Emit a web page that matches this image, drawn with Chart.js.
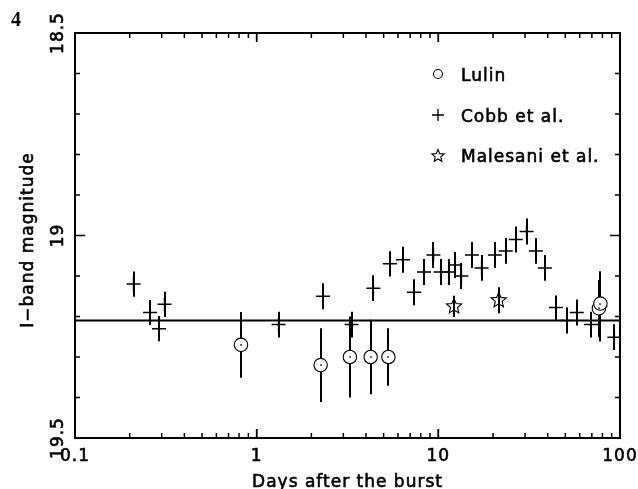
<!DOCTYPE html>
<html>
<head>
<meta charset="utf-8">
<script src="https://cdn.jsdelivr.net/npm/chart.js@4"></script>
<style>
  html, body { margin: 0; padding: 0; background: #fff; }
  #wrap { width: 638px; height: 489px; }
</style>
</head>
<body>
<div id="wrap"><canvas id="lc"></canvas></div>
<script>
// Lulin points (days, I mag, error)
const lulinDays = [0.82, 2.25, 3.26, 4.24, 5.31, 76.5, 78.0];
const lulinMag  = [19.27, 19.32, 19.30, 19.30, 19.30, 19.18, 19.168];
const lulinErr  = [0.081, 0.091, 0.10, 0.092, 0.071, 0.07, 0.06];

// Cobb et al.
const cobbDays = [0.21, 0.259, 0.29, 0.311, 1.32, 2.32, 3.33, 4.39, 5.41, 6.39,
                  7.35, 8.34, 9.4, 10.3, 11.4, 12.4, 13.4, 15.3, 17.3, 20.5,
                  23.5, 26.7, 30.6, 34.4, 38.6, 44.4, 50.9, 57.8, 69.3, 78.0, 93.1];
const cobbMag  = [19.12, 19.19, 19.23, 19.17, 19.22, 19.15, 19.22, 19.13, 19.07, 19.06,
                  19.14, 19.09, 19.048, 19.09, 19.09, 19.073, 19.10, 19.048, 19.08, 19.048,
                  19.038, 19.01, 18.99, 19.038, 19.08, 19.178, 19.21, 19.19, 19.22, 19.175, 19.251];
const cobbErr  = [0.031, 0.031, 0.031, 0.031, 0.032, 0.032, 0.032, 0.032, 0.031, 0.032,
                  0.032, 0.032, 0.032, 0.032, 0.032, 0.032, 0.032, 0.032, 0.032, 0.032,
                  0.032, 0.032, 0.032, 0.032, 0.032, 0.03, 0.032, 0.032, 0.032, 0.087, 0.032];

// Malesani et al.
const malDays = [12.2, 21.5];
const malMag  = [19.175, 19.16];
const malErr  = [0.026, 0.032];

// constant level
const fitMag = 19.21;

const xTickValues = [0.1, 1, 10, 100];
const xTickLabels = ['0.1', '1', '10', '100'];
const yTickValues = [18.5, 19, 19.5];
const yTickLabels = ['18.5', '19', '19.5'];

const FONT = '17px "DejaVu Sans"';

function starPath(ctx, cx, cy, r) {
    ctx.beginPath();
    for (let i = 0; i < 10; i++) {
        const rr = i % 2 ? r * 0.45 : r;
        const a = -Math.PI / 2 + i * Math.PI / 5;
        ctx.lineTo(cx + rr * Math.cos(a), cy + rr * Math.sin(a));
    }
    ctx.closePath();
}

// thicker text like the plot package's stroke font
function label(ctx, s, x, y) {
    ctx.fillText(s, x, y);
    ctx.strokeText(s, x, y);
}

const toPts = (xs, ys) => xs.map((x, i) => ({ x: x, y: ys[i] }));

const decorations = {
    id: 'decorations',
    beforeDatasetsDraw(chart) {
        const ctx = chart.ctx, xs = chart.scales.x, ys = chart.scales.y;
        ctx.save();
        ctx.strokeStyle = '#000';
        ctx.lineWidth = 2;
        const bars = [[lulinDays, lulinMag, lulinErr], [cobbDays, cobbMag, cobbErr], [malDays, malMag, malErr]];
        bars.forEach(([d, m, e]) => {
            d.forEach((day, i) => {
                const px = Math.round(xs.getPixelForValue(day));
                ctx.beginPath();
                ctx.moveTo(px, ys.getPixelForValue(m[i] - e[i]));
                ctx.lineTo(px, ys.getPixelForValue(m[i] + e[i]));
                ctx.stroke();
            });
        });
        ctx.restore();
    },
    afterDatasetsDraw(chart) {
        const ctx = chart.ctx;
        ctx.save();
        ctx.fillStyle = '#000';
        chart.getDatasetMeta(1).data.forEach(p => {
            ctx.fillRect(Math.round(p.x) - 0.75, Math.round(p.y) - 0.75, 1.5, 1.5);
        });
        ctx.strokeStyle = '#000';
        ctx.lineWidth = 1.1;
        chart.getDatasetMeta(3).data.forEach(p => {
            starPath(ctx, p.x, p.y, 8);
            ctx.stroke();
        });
        ctx.restore();
    },
    afterDraw(chart) {
        const ctx = chart.ctx, a = chart.chartArea, xs = chart.scales.x, ys = chart.scales.y;
        ctx.save();
        ctx.strokeStyle = '#000';
        ctx.fillStyle = '#000';
        ctx.lineWidth = 2;
        ctx.strokeRect(a.left, a.top, a.right - a.left, a.bottom - a.top);

        // x ticks (inward, bottom and top)
        ctx.lineWidth = 1.5;
        for (let dec = 0.1; dec < 100; dec *= 10) {
            for (let k = 1; k <= 10; k++) {
                const px = xs.getPixelForValue(k * dec);
                const len = (k === 1 || k === 10) ? 9 : 5;
                ctx.beginPath();
                ctx.moveTo(px, a.bottom); ctx.lineTo(px, a.bottom - len);
                ctx.moveTo(px, a.top); ctx.lineTo(px, a.top + len);
                ctx.stroke();
            }
        }
        // y ticks every 0.1 mag
        for (let i = 0; i <= 10; i++) {
            const v = 18.5 + i * 0.1;
            const py = ys.getPixelForValue(v);
            const len = (i % 5 === 0) ? 10 : 5;
            ctx.beginPath();
            ctx.moveTo(a.left, py); ctx.lineTo(a.left + len, py);
            ctx.moveTo(a.right, py); ctx.lineTo(a.right - len, py);
            ctx.stroke();
        }

        ctx.font = FONT;
        ctx.letterSpacing = '1px';
        ctx.lineWidth = 0.6;
        ctx.textAlign = 'center';
        ctx.textBaseline = 'alphabetic';
        xTickValues.forEach((v, i) => {
            label(ctx, xTickLabels[i], xs.getPixelForValue(v), a.bottom + 23);
        });
        yTickValues.forEach((v, i) => {
            ctx.save();
            ctx.translate(a.left - 12, ys.getPixelForValue(v));
            ctx.rotate(-Math.PI / 2);
            label(ctx, yTickLabels[i], 0, 0);
            ctx.restore();
        });
        label(ctx, 'Days after the burst', (a.left + a.right) / 2, a.bottom + 49);
        ctx.save();
        ctx.translate(33, 240);
        ctx.rotate(-Math.PI / 2);
        label(ctx, 'I\u2212band magnitude', 0, 0);
        ctx.restore();

        // legend
        ctx.textAlign = 'left';
        const lx = 438, tx = 461;
        ctx.lineWidth = 1.1;
        ctx.beginPath();
        ctx.arc(lx, 74, 4.5, 0, Math.PI * 2);
        ctx.stroke();
        ctx.lineWidth = 1.3;
        ctx.beginPath();
        ctx.moveTo(lx - 6, 115); ctx.lineTo(lx + 6, 115);
        ctx.moveTo(lx, 109); ctx.lineTo(lx, 121);
        ctx.stroke();
        ctx.lineWidth = 1.1;
        starPath(ctx, lx, 156, 6.5);
        ctx.stroke();
        ctx.lineWidth = 0.6;
        label(ctx, 'Lulin', tx, 81);
        label(ctx, 'Cobb et al.', tx, 122);
        label(ctx, 'Malesani et al.', tx, 162);

        // panel number
        ctx.letterSpacing = '0px';
        ctx.font = 'bold 20px "Liberation Serif"';
        ctx.fillText('4', 11, 26);
        ctx.restore();
    }
};

new Chart(document.getElementById('lc'), {
    type: 'scatter',
    data: {
        datasets: [
            {
                label: 'level',
                data: [{ x: 0.1, y: fitMag }, { x: 100, y: fitMag }],
                showLine: true,
                borderColor: '#000',
                borderWidth: 2,
                pointRadius: 0
            },
            {
                label: 'Lulin',
                data: toPts(lulinDays, lulinMag),
                pointStyle: 'circle',
                pointRadius: 6.7,
                borderColor: '#000',
                backgroundColor: '#fff',
                borderWidth: 1.1
            },
            {
                label: 'Cobb et al.',
                data: toPts(cobbDays, cobbMag),
                pointStyle: 'cross',
                pointRadius: 7,
                borderColor: '#000',
                borderWidth: 1.5
            },
            {
                label: 'Malesani et al.',
                data: toPts(malDays, malMag),
                pointRadius: 0
            }
        ]
    },
    options: {
        responsive: true,
        maintainAspectRatio: false,
        animation: false,
        layout: { padding: { left: 75, top: 33, right: 18, bottom: 51 } },
        plugins: { legend: { display: false }, tooltip: { enabled: false } },
        scales: {
            x: { type: 'logarithmic', min: 0.1, max: 100, display: false },
            y: { type: 'linear', min: 18.5, max: 19.5, reverse: true, display: false }
        }
    },
    plugins: [decorations]
});
</script>
</body>
</html>
